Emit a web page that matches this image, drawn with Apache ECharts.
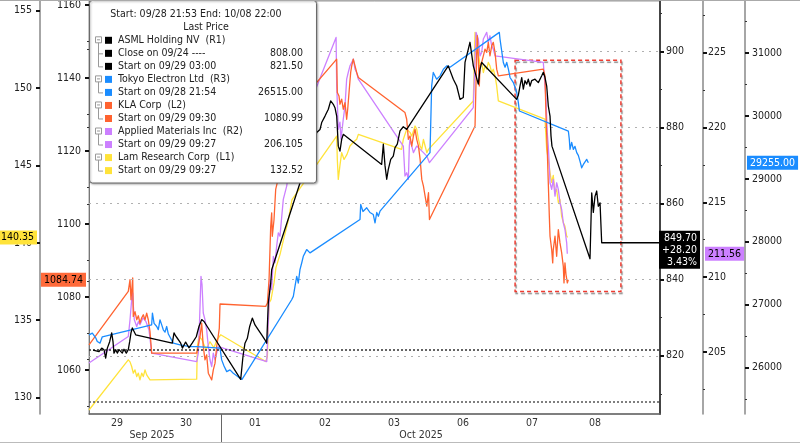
<!DOCTYPE html>
<html><head><meta charset="utf-8">
<script src="https://cdn.jsdelivr.net/npm/echarts@6/dist/echarts.min.js"></script>
<style>html,body{margin:0;padding:0;background:#fff}#c{width:800px;height:443px}</style>
</head><body><div id="c"></div>
<script>
// ---------- DATA ----------
// x = trading-time position in "day slots" from chart start (09/28 21:53)
const dayLabels = ['29','30','01','02','03','06','07','08'];
const dayLabelPos = [0.405,1.402,2.400,3.412,4.409,5.407,6.405,7.315];
const monthLabels = ['Sep 2025','Oct 2025'];
const monthLabelPos = [0.911,4.800];
const monthBreakPos = [1.908];

const asml = [[0.06,821.5],[0.145,821.1],[0.184,822.0],[0.217,821.6],[0.241,819.4],[0.265,822.0],[0.299,823.7],[0.328,826.0],[0.347,823.7],[0.361,820.7],[0.386,821.6],[0.409,820.7],[0.434,821.6],[0.458,821.1],[0.481,820.7],[0.506,821.7],[0.539,820.7],[0.568,821.6],[0.588,823.7],[0.607,826.0],[0.626,827.3],[0.651,827.7],[0.675,825.5],
[1.204,823.3],[1.229,826.0],[1.253,825.2],[1.277,824.6],[1.301,824.0],[1.326,823.3],[1.350,822.0],[1.373,822.4],[1.397,823.6],[1.421,823.3],[1.445,822.1],[1.470,822.4],[1.494,823.4],[1.518,822.9],[1.551,825.0],[1.590,827.7],[1.629,829.5],[1.648,829.9],[1.663,829.0],
[2.193,813.8],[2.226,819.8],[2.255,823.3],[2.289,824.6],[2.323,827.7],[2.361,829.9],[2.400,828.1],[2.448,826.8],[2.497,825.5],[2.544,824.2],[2.569,823.3],[2.592,833.9],[2.627,839.1],[2.641,842.6],
[3.075,866.8],[3.123,869.5],[3.181,872.1],[3.238,875.6],[3.292,878.7],[3.340,879.5],[3.364,881.3],[3.412,883.0],[3.460,884.8],[3.494,887.0],[3.532,886.1],[3.556,885.2],[3.581,883.0],[3.604,875.1],[3.628,873.8],[3.653,876.9],[3.676,878.2],
[4.231,870.3],[4.255,875.6],[4.280,869.9],[4.304,866.4],[4.327,869.0],[4.362,871.6],[4.399,872.5],[4.424,874.7],[4.457,875.6],[4.496,879.1],[4.544,880.2],[4.593,879.5],
[5.194,896.2],[5.219,896.2],[5.267,892.7],[5.316,890.9],[5.364,887.4],[5.411,887.9],[5.436,897.1],[5.484,900.6],[5.508,902.4],[5.556,896.2],[5.628,891.4],[5.653,895.3],[5.677,897.1],
[6.183,887.4],[6.207,888.5],[6.231,890.9],[6.256,893.1],[6.279,890.1],[6.303,892.3],[6.328,891.4],[6.351,892.7],[6.376,890.9],[6.400,892.3],[6.448,892.7],[6.496,891.8],[6.545,893.6],[6.568,894.5],[6.592,893.2],[6.617,890.9],[6.640,885.7],[6.665,883.0],[6.679,877.8],[6.693,875.1],
[7.243,845.5],[7.268,862.8],[7.291,857.7],[7.315,861.9],[7.340,863.3],[7.363,859.3],[7.388,860.2],[7.412,849.7],[8.255,849.7]];

const tel = [[0,26518],[0.048,26545],[0.097,26470],[0.120,26411],[0.159,26385],[0.192,26486],[0.906,26677],[0.917,26864],[0.941,26700],[0.979,26650],[1.002,26600],[1.026,26757],[1.050,26680],[1.074,26598],[1.099,26560],[1.123,26650],[1.147,26530],[1.171,26502],[1.219,26385],[1.316,26358],[1.460,26331],[1.557,26331],
[1.894,26306],[1.918,26119],[1.952,26023],[1.991,25932],[2.038,25960],[2.086,25907],[2.140,25864],[2.183,25827],[2.212,25808],
[2.930,27076],[2.954,27129],[2.978,27288],[3.003,27448],[3.026,27342],[3.050,27555],[3.075,27661],[3.098,27767],[3.123,27821],[3.147,27874],[3.170,27901],[3.195,27821],
[3.918,28352],[3.928,28591],[3.961,28480],[4.015,28539],[4.062,28464],[4.110,28432],[4.135,28299],[4.160,28464],[4.183,28405],[4.207,28485],
[4.930,29416],[4.954,30478],[4.977,30692],[5.026,30585],[5.075,30638],[5.123,30744],[5.171,30797],[5.219,30776],
[5.932,31330],[5.942,31223],[5.990,30851],[6.015,30776],[6.039,30851],[6.063,30744],[6.087,30612],[6.135,30532],[6.184,30373],[6.207,30213],[6.222,30079],
[6.930,29760],[6.944,29628],[6.954,29468],[6.978,29580],[7.002,29468],[7.026,29516],[7.051,29416],[7.074,29373],[7.098,29282],[7.123,29176],[7.147,29229],[7.171,29256],[7.195,29309],[7.219,29255]];

const kla = [[0,1066.95],[0.568,1081.57],[0.593,1084.78],[0.607,1079.29],[0.632,1085.25],[0.640,1074.71],[0.665,1076.0],[0.690,1073.81],[0.713,1074.9],[0.737,1072.9],[0.762,1074.36],[0.785,1075.18],[0.810,1073.81],[0.834,1075.64],[0.857,1073.81],[0.882,1070.59],[0.906,1064.67],
[1.557,1064.67],[1.580,1064.9],[1.605,1069.22],[1.629,1072.9],[1.652,1066.48],[1.677,1062.83],[1.701,1064.2],[1.725,1059.18],[1.749,1058.25],[1.774,1057.34],[1.797,1060.08],[1.822,1061.92],[1.846,1066.48],[1.865,1068.87],[1.884,1071.53],[1.894,1078.11],
[2.555,1077.46],[2.579,1078.39],[2.603,1084.78],[2.627,1099.41],[2.641,1103.08],[2.650,1096.66],[2.675,1101.25],[2.699,1109.48],[2.722,1111.32],[2.761,1116.34],[2.819,1123.2],[2.877,1127.32],[2.935,1130.88],
[3.581,1145.15],[3.590,1136.02],[3.614,1135.08],[3.628,1132.81],[3.653,1134.18],[3.676,1131.43],[3.701,1133.27],[3.725,1128.69],[3.740,1131.43],[3.763,1136.92],[3.783,1141.5],[3.798,1143.32],[3.821,1145.15],[3.846,1143.32],[3.870,1141.5],[3.894,1140.13],
[4.568,1130.53],[4.593,1128.69],[4.617,1123.2],[4.641,1124.11],[4.666,1121.36],[4.690,1124.11],[4.714,1125.95],[4.738,1123.2],[4.763,1121.36],[4.787,1117.71],[4.811,1112.23],[4.835,1110.39],[4.859,1107.64],[4.884,1104.9],[4.908,1108.57],[4.922,1101.25],
[5.581,1126.85],[5.605,1146.99],[5.614,1151.55],[5.628,1145.15],[5.643,1137.83],[5.653,1143.32],[5.677,1144.25],[5.701,1146.06],[5.725,1147.9],[5.750,1146.99],[5.773,1149.74],[5.797,1146.06],[5.822,1148.8],[5.845,1149.74],[5.870,1146.99],[5.894,1142.41],[5.918,1140.57],
[6.568,1142.41],[6.592,1140.57],[6.607,1129.6],[6.625,1120.46],[6.640,1111.32],[6.655,1102.15],[6.665,1096.66],[6.689,1093.01],[6.704,1089.37],[6.712,1093.01],[6.737,1096.66],[6.761,1091.18],[6.785,1098.5],[6.809,1094.85],[6.833,1092.19],[6.857,1088.43],[6.867,1083.88],[6.881,1089.37],[6.896,1086.16],[6.915,1083.88],[6.929,1084.74]];

const amat = [[0,204.27],[0.568,206.04],[0.593,207.16],[0.617,208.5],[0.632,208.95],[0.640,208.16],[0.655,207.16],[0.690,206.71],[0.713,207.03],[0.737,206.83],[0.781,207.29],[0.824,207.03],[0.867,206.49],[0.906,204.93],
[1.557,204.37],[1.580,204.93],[1.594,206.49],[1.605,208.05],[1.619,210.06],[1.634,209.5],[1.652,207.61],[1.677,207.16],[1.701,206.49],[1.725,205.37],[1.749,204.49],[1.774,204.04],[1.797,204.93],[1.822,204.49],[1.846,204.93],[1.870,205.37],
[2.570,204.37],[2.592,206.94],[2.617,209.84],[2.641,209.17],[2.665,211.39],[2.689,210.97],[2.714,212.11],[2.737,212.96],[2.761,212.73],[2.809,215.19],[2.858,216.08],[2.891,217.19],[2.935,218.53],
[3.572,226.0],[3.581,222.77],[3.590,221.66],[3.604,219.87],[3.628,220.34],[3.643,219.2],[3.676,220.54],[3.701,221.43],[3.725,223.21],[3.748,223.66],[3.773,224.1],[3.798,224.33],[3.821,224.55],[3.846,223.88],[3.870,223.66],[3.894,223.21],
[4.544,218.75],[4.568,216.75],[4.593,216.97],[4.617,216.53],[4.631,218.75],[4.641,219.2],[4.690,218.31],[4.738,218.75],[4.787,218.53],[4.835,218.31],[4.884,218.08],[4.922,217.64],
[5.556,221.32],[5.595,226.34],[5.628,225.89],[5.653,224.77],[5.677,225.0],[5.701,225.89],[5.725,226.11],[5.750,226.34],[5.773,225.67],[5.797,226.11],[5.822,225.44],[5.845,225.22],[5.870,224.77],
[6.568,224.33],[6.582,224.44],[6.607,221.88],[6.625,219.65],[6.640,218.75],[6.655,217.41],[6.665,216.3],[6.689,215.86],[6.712,216.53],[6.737,215.41],[6.761,216.3],[6.785,215.86],[6.809,214.97],[6.833,214.52],[6.857,213.63],[6.881,213.18],[6.906,212.29],[6.915,211.56]];

const lam = [[0,129.2],[0.568,132.44],[0.593,132.31],[0.617,132.01],[0.640,131.58],[0.665,131.79],[0.690,131.36],[0.713,131.58],[0.737,131.15],[0.762,131.58],[0.785,131.36],[0.810,131.79],[0.834,131.47],[0.857,131.36],[0.882,131.15],[0.906,131.15],
[1.557,131.19],[1.566,133.3],[1.590,133.95],[1.634,133.74],[1.691,133.09],[1.749,133.61],[1.807,133.22],[1.851,133.74],[1.904,134.06],
[2.555,132.33],[2.579,132.66],[2.603,136.11],[2.631,136.33],[2.675,137.41],[2.703,138.4],[2.761,139.24],[2.819,140.34],[2.877,141.38],[2.935,142.8],
[3.581,146.9],[3.590,145.39],[3.604,144.1],[3.628,145.01],[3.653,145.83],[3.687,145.39],[3.730,145.72],[3.773,146.26],[3.821,146.5],[3.870,146.69],[3.894,147.01],
[4.519,146.04],[4.544,146.69],[4.593,147.34],[4.641,147.14],[4.666,146.9],[4.714,147.55],[4.738,147.34],[4.763,146.69],[4.787,146.26],[4.811,146.04],[4.835,146.69],[4.859,146.26],[4.884,145.83],[4.908,146.04],[4.930,145.93],
[5.556,149.17],[5.581,153.6],[5.605,153.17],[5.628,152.31],[5.653,151.44],[5.677,151.66],[5.701,151.01],[5.725,151.44],[5.750,151.22],[5.773,151.66],[5.797,151.44],[5.822,151.01],[5.845,151.22],[5.870,150.79],[5.894,150.14],[5.918,149.17],
[6.592,147.99],[6.617,146.04],[6.640,145.39],[6.665,144.53],[6.689,143.91],[6.712,144.36],[6.737,143.24],[6.761,143.45],[6.785,142.61],[6.809,142.8],[6.833,141.72],[6.857,141.32],[6.881,141.07],[6.906,140.43],[6.920,140.35]];

// reference levels (ASML, R1 scale)
const asmlPrevClose = 808.00;
const asmlStart = 821.50;
// highlighted box (x in day slots, y in ASML R1 units)
const boxX = [6.16, 7.69];
const boxY = [836.9, 897.7];

// axis ticks
const l1Ticks = [130,135,140,145,150,155], l1Minor = [132.5,137.5,142.5,147.5,152.5];
const l2Ticks = [1060,1080,1100,1120,1140,1160], l2Minor = [1050,1070,1090,1110,1130,1150];
const r1Ticks = [820,840,860,880,900], r1Minor = [810,830,850,870,890,910];
const r2Ticks = [205,210,215,220,225], r2Minor = [202.5,207.5,212.5,217.5,222.5,227.5];
const r3Ticks = [26000,27000,28000,29000,30000,31000], r3Minor = [25500,26500,27500,28500,29500,30500,31500];

// legend texts
const legendHeader = 'Start: 09/28 21:53 End: 10/08 22:00';
const legendSubHeader = 'Last Price';
const legendNames = ['ASML Holding NV  (R1)','Tokyo Electron Ltd  (R3)','KLA Corp  (L2)','Applied Materials Inc  (R2)','Lam Research Corp  (L1)'];
const legendDetails = [
  [['Close on 09/24 ----','808.00'],['Start on 09/29 03:00','821.50']],
  [['Start on 09/28 21:54','26515.00']],
  [['Start on 09/29 09:30','1080.99']],
  [['Start on 09/29 09:27','206.105']],
  [['Start on 09/29 09:27','132.52']]
];
const colors = {asml:'#000000', tel:'#1a8cff', kla:'#ff6330', amat:'#cc80ff', lam:'#ffe33a'};
const legendColors = [colors.asml, colors.tel, colors.kla, colors.amat, colors.lam];

// ---------- CHART ----------
const FONT = '"DejaVu Sans Condensed","DejaVu Sans",sans-serif';
const ranges = {l1:[128.94,155.63], l2:[1048.0,1161.07], r1:[804.69,913.25], r2:[200.87,228.43], r3:[25258,31829]};
const X_MAX = 8.255;

function mainAxis(pos, offset, range, ticks, lineColor, lineWidth, margin){
  return {type:'value', position:pos, offset:offset, min:range[0], max:range[1],
    axisLine:{show:true, onZero:false, lineStyle:{color:lineColor, width:lineWidth}},
    axisTick:{show:true, customValues:ticks, length:4, lineStyle:{color:'#111', width:2}},
    axisLabel:{show:true, customValues:ticks, margin:margin, color:'#222', fontSize:10.5, fontFamily:FONT, formatter:v=>String(v)},
    splitLine:{show:false}};
}
function overlayAxis(pos, offset, range, minor, tagVal, tagText, tagStyle){
  return {type:'value', position:pos, offset:offset, min:range[0], max:range[1],
    axisLine:{show:false}, axisTick:{show:true, customValues:minor, length:2, lineStyle:{color:'#333', width:1}},
    axisLabel:Object.assign({show:true, customValues:[tagVal], formatter:()=>tagText, fontSize:10.5, fontFamily:FONT}, tagStyle),
    splitLine:{show:false}};
}
const last = a => a[a.length-1][1];
const asmlLast = last(asml), telLast = last(tel), klaLast = last(kla), amatLast = last(amat), lamLast = last(lam);
const asmlChg = asmlLast - asmlStart;
const asmlTag = asmlLast.toFixed(2) + '\n' + (asmlChg>=0?'+':'') + asmlChg.toFixed(2) + '\n' + (asmlChg/asmlStart*100).toFixed(2) + '%';

const yAxis = [
  mainAxis('left', 49, ranges.l1, l1Ticks, '#888', 1.5, 8),          // 0 Lam L1
  mainAxis('left', 0, ranges.l2, l2Ticks, '#777', 1, 8),             // 1 KLA L2
  mainAxis('right', 0, ranges.r1, r1Ticks, '#444', 2, 6),            // 2 ASML R1
  mainAxis('right', 43, ranges.r2, r2Ticks, '#888', 1.5, 5),         // 3 AMAT R2
  mainAxis('right', 85, ranges.r3, r3Ticks, '#888', 1.5, 7),         // 4 TEL R3
  overlayAxis('left', 49, ranges.l1, l1Minor, lamLast, lamLast.toFixed(2), {backgroundColor:colors.lam, color:'#000', padding:[2,3,1,3], margin:3}),
  overlayAxis('left', 0, ranges.l2, l2Minor, klaLast, klaLast.toFixed(2), {backgroundColor:'#ff6a3a', color:'#000', padding:[2,3,1,3], margin:3}),
  overlayAxis('right', 0, ranges.r1, r1Minor, asmlLast-1.85, asmlTag, {backgroundColor:'#000', color:'#fff', padding:[1,3,1,3], margin:40, align:'right', lineHeight:12}),
  overlayAxis('right', 43, ranges.r2, r2Minor, amatLast, amatLast.toFixed(2), {backgroundColor:colors.amat, color:'#000', padding:[2,3,1,3], margin:2}),
  overlayAxis('right', 85, ranges.r3, r3Minor, telLast, telLast.toFixed(2), {backgroundColor:colors.tel, color:'#fff', padding:[2,3,1,3], margin:2})
];

const xAxis = [
  {type:'value', position:'bottom', min:0, max:X_MAX,
   axisLine:{show:true, onZero:false, lineStyle:{color:'#666', width:1.5}}, axisTick:{show:false}, splitLine:{show:false},
   axisLabel:{customValues:dayLabelPos, margin:4, color:'#333', fontSize:10.5, fontFamily:FONT,
     formatter:v=>{const i=dayLabelPos.findIndex(p=>Math.abs(p-v)<1e-6); return i>=0?dayLabels[i]:'';}}},
  {type:'value', position:'bottom', min:0, max:X_MAX,
   axisLine:{show:false, onZero:false}, splitLine:{show:false},
   axisTick:{show:true, customValues:monthBreakPos, length:29, lineStyle:{color:'#666', width:1}},
   axisLabel:{customValues:monthLabelPos, margin:16, color:'#333', fontSize:10.5, fontFamily:FONT,
     formatter:v=>{const i=monthLabelPos.findIndex(p=>Math.abs(p-v)<1e-6); return i>=0?monthLabels[i]:'';}}}
];

function lineSeries(name, data, yi, color, z){
  return {name, type:'line', data, xAxisIndex:0, yAxisIndex:yi, showSymbol:false, symbol:'none', silent:true, z:z,
    lineStyle:{color, width:1.3, join:'round'}, animation:false};
}

const series = [
  {type:'line', data:[], xAxisIndex:0, yAxisIndex:2, silent:true, z:1, animation:false,
   markLine:{silent:true, symbol:'none', animation:false, label:{show:false},
     data: r1Ticks.map(v=>({yAxis:v, lineStyle:{color:'#b0b0b0', width:1, type:[2,5]}}))
       .concat([{yAxis:asmlStart, lineStyle:{color:'#333', width:1.5, type:[2,2]}},
                {yAxis:asmlPrevClose, lineStyle:{color:'#555', width:1.5, type:[2,2]}}])}},
  lineSeries('Lam Research Corp', lam, 0, colors.lam, 2),
  lineSeries('Applied Materials Inc', amat, 3, colors.amat, 3),
  lineSeries('KLA Corp', kla, 1, colors.kla, 4),
  lineSeries('Tokyo Electron Ltd', tel, 4, colors.tel, 5),
  lineSeries('ASML Holding NV', asml, 2, colors.asml, 6),
  {type:'line', data:[], xAxisIndex:0, yAxisIndex:2, silent:true, z:8, animation:false,
   markArea:{silent:true, animation:false, label:{show:false},
     itemStyle:{color:'rgba(0,0,0,0)', borderColor:'#ee3b30', borderWidth:1.5, borderType:[4,3],
       shadowColor:'rgba(0,0,0,0.45)', shadowBlur:1, shadowOffsetX:1, shadowOffsetY:2},
     data:[[{xAxis:boxX[0], yAxis:boxY[1]},{xAxis:boxX[1], yAxis:boxY[0]}]]}}
];

// legend box via graphic
const els = [];
const Z = 100;
els.push({type:'rect', z:Z, shape:{x:89.5,y:0.5,width:227,height:182.5,r:3},
  style:{fill:'#fff', stroke:'#6a6a6a', lineWidth:1, shadowBlur:2, shadowColor:'rgba(0,0,0,0.3)', shadowOffsetX:1, shadowOffsetY:1}});
const LF = '10.5px ' + FONT;
els.push({type:'text', z:Z, style:{text:legendHeader, x:196, y:14.5, align:'center', verticalAlign:'middle', font:LF, fill:'#222'}});
els.push({type:'text', z:Z, style:{text:legendSubHeader, x:206, y:27.3, align:'center', verticalAlign:'middle', font:LF, fill:'#222'}});
let row = 0; const y0 = 40.3, dy = 13.03;
function swatch(y, c){ els.push({type:'rect', z:Z, shape:{x:105,y:y-3.5,width:7,height:7}, style:{fill:c}}); }
function txt(t, x, y, align){ els.push({type:'text', z:Z, style:{text:t, x:x, y:y, align:align, verticalAlign:'middle', font:LF, fill:'#222'}}); }
legendNames.forEach((name, i) => {
  const gy = y0 + row*dy;
  els.push({type:'rect', z:Z, shape:{x:95.5,y:gy-3.5,width:6,height:6}, style:{fill:'#fff', stroke:'#999', lineWidth:1}});
  els.push({type:'line', z:Z, shape:{x1:97,y1:gy-0.5,x2:100,y2:gy-0.5}, style:{stroke:'#999', lineWidth:1}});
  swatch(gy, legendColors[i]); txt(name, 118, gy, 'left');
  row++;
  const kids = legendDetails[i];
  const lastY = y0 + (row + kids.length - 1)*dy;
  els.push({type:'line', z:Z, shape:{x1:98.5,y1:gy+2.5,x2:98.5,y2:lastY+0.5}, style:{stroke:'#999', lineWidth:1}});
  kids.forEach(k => {
    const ky = y0 + row*dy;
    els.push({type:'line', z:Z, shape:{x1:98.5,y1:ky+0.5,x2:103,y2:ky+0.5}, style:{stroke:'#999', lineWidth:1}});
    swatch(ky, legendColors[i]); txt(k[0], 118, ky, 'left'); txt(k[1], 303, ky, 'right');
    row++;
  });
});
// outer frame lines
els.push({type:'line', z:Z, shape:{x1:0,y1:0.5,x2:800,y2:0.5}, style:{stroke:'#aaa', lineWidth:1}});
els.push({type:'line', z:Z, shape:{x1:0,y1:442.5,x2:800,y2:442.5}, style:{stroke:'#bbb', lineWidth:1}});

const chart = echarts.init(document.getElementById('c'), null, {renderer:'canvas'});
chart.setOption({
  animation:false,
  backgroundColor:'#fff',
  grid:{left:89, right:140, top:1, bottom:29, show:true, borderColor:'#999', borderWidth:1, containLabel:false, outerBoundsMode:'none'},
  xAxis, yAxis, series,
  graphic:{elements:els}
});
</script></body></html>
